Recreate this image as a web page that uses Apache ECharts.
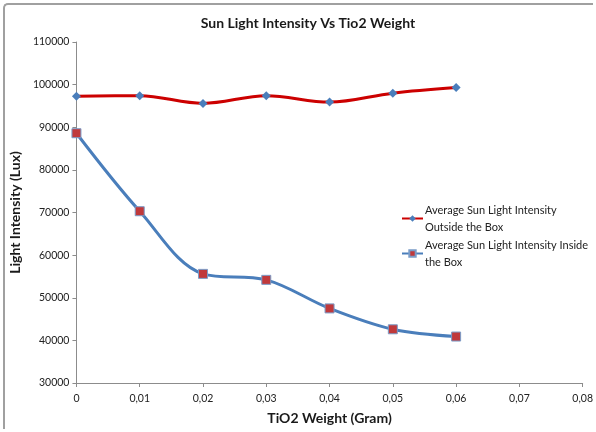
<!DOCTYPE html>
<html>
<head>
<meta charset="utf-8">
<script src="https://cdn.jsdelivr.net/npm/echarts@6/dist/echarts.min.js"></script>
<style>
html,body{margin:0;padding:0;background:#fff;overflow:hidden;width:596px;height:432px;}
#frame{position:absolute;left:3px;top:3px;width:590px;height:426px;border-top:2px solid #a0a0a0;border-left:2px solid #a0a0a0;border-top-left-radius:5px;pointer-events:none;box-sizing:border-box;}
#chart{position:absolute;left:0;top:0;width:596px;height:432px;}
</style>
</head>
<body>
<div id="chart"></div>
<div id="frame"></div>
<script>
const titleText = 'Sun Light Intensity Vs Tio2 Weight';
const xAxisName = 'TiO2 Weight (Gram)';
const yAxisName = 'Light Intensity (Lux)';
const weights = [0, 0.01, 0.02, 0.03, 0.04, 0.05, 0.06];
const outsideName = 'Average Sun Light Intensity Outside the Box';
const insideName = 'Average Sun Light Intensity Inside the Box';
const outsideValues = [97300, 97400, 95600, 97400, 95900, 98000, 99300];
const insideValues = [88600, 70300, 55600, 54200, 47500, 42600, 40900];
const legendLabels = {};
legendLabels[outsideName] = 'Average Sun Light Intensity\nOutside the Box';
legendLabels[insideName] = 'Average Sun Light Intensity Inside\nthe Box';

const font = 'Lato, "Open Sans", sans-serif';
const chart = echarts.init(document.getElementById('chart'), null, {renderer: 'canvas'});
const pairs = (vals) => weights.map((w, i) => [w, vals[i]]);

chart.setOption({
  backgroundColor: '#fff',
  animation: false,
  title: {
    text: titleText,
    left: 303, top: 11, textAlign: 'center',
    textStyle: {fontFamily: font, fontSize: 14, fontWeight: 'bold', color: '#1a1a1a'}
  },
  legend: {
    orient: 'vertical',
    left: 401, top: 193,
    padding: 0,
    itemWidth: 21, itemHeight: 8,
    itemGap: -16,
    formatter: (n) => legendLabels[n],
    textStyle: {fontFamily: font, fontSize: 11, color: '#222', lineHeight: 17, padding: [17,0,0,-3]},
    data: [outsideName, insideName]
  },
  grid: {left: 72, right: 12, top: 42, bottom: 49, containLabel: false},
  xAxis: {
    type: 'value', min: 0, max: 0.08, interval: 0.01,
    name: xAxisName, nameLocation: 'middle', nameGap: 28,
    nameTextStyle: {fontFamily: font, fontSize: 14, fontWeight: 'bold', color: '#1a1a1a'},
    axisLine: {show: true, lineStyle: {color: '#8c8c8c', width: 1}},
    axisTick: {show: true, length: 4, lineStyle: {color: '#8c8c8c'}},
    splitLine: {show: false},
    axisLabel: {fontFamily: font, fontSize: 10.5, color: '#222', margin: 10,
      formatter: (v) => v === 0 ? '0' : v.toFixed(2).replace('.', ',')}
  },
  yAxis: {
    type: 'value', min: 30000, max: 110000, interval: 10000,
    name: yAxisName, nameLocation: 'middle', nameGap: 48, nameRotate: 90,
    nameTextStyle: {fontFamily: font, fontSize: 14, fontWeight: 'bold', color: '#1a1a1a'},
    axisLine: {show: true, lineStyle: {color: '#8c8c8c', width: 1}},
    axisTick: {show: true, length: 4, lineStyle: {color: '#8c8c8c'}},
    splitLine: {show: false},
    axisLabel: {fontFamily: font, fontSize: 10.5, color: '#222', margin: 7,
      formatter: (v) => String(v)}
  },
  series: [
    {
      name: outsideName, type: 'line', smooth: 0.35,
      data: pairs(outsideValues),
      lineStyle: {color: '#cc0000', width: 3},
      symbol: 'diamond', symbolSize: 9,
      itemStyle: {color: '#4a7ebb', borderColor: '#4a7ebb', borderWidth: 0},
      color: '#cc0000'
    },
    {
      name: insideName, type: 'line', smooth: 0.35,
      data: pairs(insideValues),
      lineStyle: {color: '#4a7ebb', width: 3},
      symbol: 'rect', symbolSize: 9,
      itemStyle: {color: '#c0393b', borderColor: '#7a9cc8', borderWidth: 1},
      color: '#4a7ebb'
    }
  ]
});
</script>
</body>
</html>
